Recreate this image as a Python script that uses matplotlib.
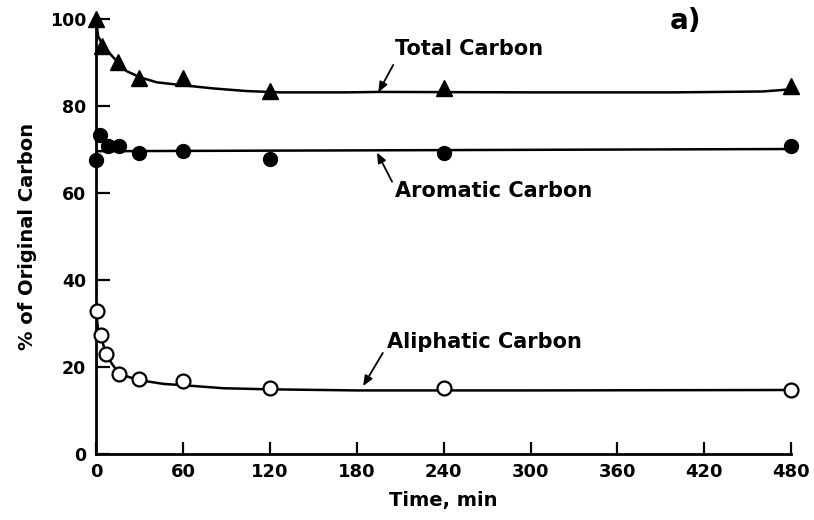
import matplotlib
matplotlib.use("Agg")
import matplotlib.pyplot as plt

# Measured points
t_total = [0, 4, 15, 30, 60, 120, 240, 480]
total = [100, 93.8, 90.0, 86.3, 86.5, 83.4, 84.0, 84.6]

t_arom = [0, 3, 8, 16, 30, 60, 120, 240, 480]
aromatic = [67.5, 73.4, 70.9, 70.9, 69.1, 69.6, 67.7, 69.1, 70.7]

t_aliph = [0.5, 3.5, 7, 16, 30, 60, 120, 240, 480]
aliphatic = [33.0, 27.5, 23.0, 18.5, 17.3, 16.8, 15.2, 15.2, 14.8]

# Fitted curves
fit_t_total = [0, 1.4, 4, 7, 11.7, 21, 30, 42, 58, 81, 104, 127, 173, 196, 300, 400, 460, 480]
fit_total = [100, 96, 94.3, 93.0, 91.2, 88.0, 86.6, 85.4, 84.8, 84.0, 83.4, 83.1, 83.1, 83.2, 83.1, 83.1, 83.3, 83.8]

fit_t_arom = [0, 480]
fit_arom = [69.6, 70.1]

fit_t_aliph = [0, 1.5, 4, 7, 11, 16, 29, 46.5, 60, 88, 120, 180, 300, 480]
fit_aliph = [33.0, 28.4, 26.3, 23.0, 20.8, 18.5, 17.1, 16.2, 15.9, 15.2, 14.95, 14.7, 14.7, 14.8]

xticks = [0, 60, 120, 180, 240, 300, 360, 420, 480]
yticks = [0, 20, 40, 60, 80, 100]

fig = plt.figure(figsize=(8.14, 5.2), dpi=100)
ax = fig.add_axes([0.118, 0.126, 0.854, 0.838])

ax.plot(fit_t_total, fit_total, color="black", lw=1.8)
ax.plot(fit_t_arom, fit_arom, color="black", lw=1.8)
ax.plot(fit_t_aliph, fit_aliph, color="black", lw=1.8)

ax.plot(t_total, total, linestyle="none", marker="^", markersize=11,
        color="black", clip_on=False, zorder=5)
ax.plot(t_arom, aromatic, linestyle="none", marker="o", markersize=10,
        color="black", clip_on=False, zorder=5)
ax.plot(t_aliph, aliphatic, linestyle="none", marker="o", markersize=10,
        markerfacecolor="white", markeredgecolor="black", markeredgewidth=1.6,
        clip_on=False, zorder=5)

ax.set_xlim(0, 480)
ax.set_ylim(0, 100)
ax.set_xticks(xticks)
ax.set_yticks(yticks)
ax.set_xticklabels([str(v) for v in xticks], fontsize=13, fontweight="bold")
ax.set_yticklabels([str(v) for v in yticks], fontsize=12.5, fontweight="bold")
ax.tick_params(axis="x", direction="in", length=9, width=1.6, pad=6)
ax.tick_params(axis="y", direction="in", length=10, width=1.6, pad=7)

for s in ["top", "right"]:
    ax.spines[s].set_visible(False)
for s in ["left", "bottom"]:
    ax.spines[s].set_linewidth(2)

ax.set_xlabel("Time, min", fontsize=14, fontweight="bold", labelpad=7)
ax.set_ylabel("% of Original Carbon", fontsize=14, fontweight="bold", labelpad=9)

arrow = dict(arrowstyle="-|>,head_length=0.6,head_width=0.25", color="black", lw=1.3,
             shrinkA=0, shrinkB=0)
ax.annotate("", xy=(194.9, 83.1), xytext=(205.2, 89.4), arrowprops=arrow)
ax.text(206.5, 93.1, "Total Carbon", fontsize=15, fontweight="bold", va="center", ha="left")

ax.annotate("", xy=(194, 69.3), xytext=(204.4, 62.6), arrowprops=arrow)
ax.text(206.5, 60.5, "Aromatic Carbon", fontsize=15, fontweight="bold", va="center", ha="left")

ax.annotate("", xy=(184.4, 15.7), xytext=(198, 23.3), arrowprops=arrow)
ax.text(201, 25.9, "Aliphatic Carbon", fontsize=15, fontweight="bold", va="center", ha="left")

ax.text(407, 99.5, "a)", fontsize=20, fontweight="bold", va="center", ha="center")

fig.savefig("out.png", dpi=100)
